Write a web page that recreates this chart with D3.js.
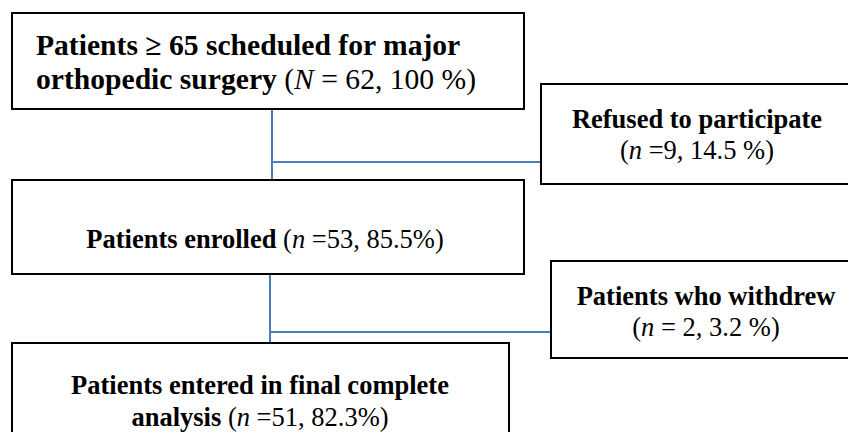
<!DOCTYPE html>
<html>
<head>
<meta charset="utf-8">
<script src="https://d3js.org/d3.v7.min.js"></script>
<style>
  body { margin: 0; background: #fff; }
  svg text { font-family: "Liberation Serif", "Times New Roman", serif; fill: #000; white-space: pre; }
</style>
</head>
<body>
<div id="chart"></div>
<script>
// flow data
var stageNames = ["Patients \u2265 65 scheduled for major orthopedic surgery", "Refused to participate",
                  "Patients enrolled", "Patients who withdrew", "Patients entered in final complete analysis"];
var stageSymbol = ["N", "n", "n", "n", "n"];
var stageEq = [" = ", " =", " =", " = ", " ="];
var stageCounts = [62, 9, 53, 2, 51];
var stagePct = ["100 %", "14.5 %", "85.5%", "3.2 %", "82.3%"];
// where each name is broken onto the next line (word index), -1 = one line
var breakAt = [6, -1, -1, -1, 5];
// does the count go on a line of its own
var countOwnLine = [false, true, false, true, false];

var w = 848, h = 432;

// box layout
var boxes = [
  {x: 12,  y: 13,  w: 512, h: 96,  size: 29.6, align: "left", tx: 36, base: [55, 89]},
  {x: 541, y: 84,  w: 320, h: 100, size: 26.5, align: "middle", tx: 697, base: [128, 159]},
  {x: 12,  y: 180, w: 512, h: 94,  size: 26.5, align: "middle", tx: 265, base: [248]},
  {x: 551, y: 261, w: 310, h: 97,  size: 26.5, align: "middle", tx: 706, base: [305, 336]},
  {x: 12,  y: 343, w: 497, h: 110, size: 26.5, align: "middle", tx: 260, base: [394, 426]}
];

// connectors: [from box, to box, branch box, branch y]
var links = [[0, 2, 1, 162], [2, 4, 3, 332]];
var trunkX = [272, 270];

var svg = d3.select("#chart").append("svg")
    .attr("width", w)
    .attr("height", h);

// build lines of text segments
function buildLines(i) {
  var words = stageNames[i].split(" ");
  var lines = [];
  var tail = [
    {t: " (", s: "n"},
    {t: stageSymbol[i], s: "i"},
    {t: stageEq[i] + stageCounts[i] + ", " + stagePct[i] + ")", s: "n"}
  ];
  if (breakAt[i] > 0 && breakAt[i] < words.length) {
    lines.push([{t: words.slice(0, breakAt[i]).join(" "), s: "b"}]);
    lines.push([{t: words.slice(breakAt[i]).join(" "), s: "b"}]);
  } else {
    lines.push([{t: stageNames[i], s: "b"}]);
  }
  if (countOwnLine[i]) {
    tail[0].t = "(";
    lines.push(tail);
  } else {
    lines[lines.length - 1] = lines[lines.length - 1].concat(tail);
  }
  return lines;
}

// connectors
links.forEach(function(l, k) {
  var a = boxes[l[0]], b = boxes[l[1]], c = boxes[l[2]];
  var xk = trunkX[k];
  svg.append("line")
    .attr("x1", xk).attr("y1", a.y + a.h)
    .attr("x2", xk).attr("y2", b.y)
    .attr("stroke", "#4a7ebb").attr("stroke-width", 2);
  svg.append("line")
    .attr("x1", xk - 1).attr("y1", l[3])
    .attr("x2", c.x).attr("y2", l[3])
    .attr("stroke", "#4a7ebb").attr("stroke-width", 2);
});

// boxes
var g = svg.selectAll("g.box")
    .data(boxes)
    .enter()
    .append("g")
    .attr("class", "box");

g.append("rect")
    .attr("x", function(d) { return d.x; })
    .attr("y", function(d) { return d.y; })
    .attr("width", function(d) { return d.w; })
    .attr("height", function(d) { return d.h; })
    .attr("fill", "#fff")
    .attr("stroke", "#000")
    .attr("stroke-width", 2);

g.each(function(d, i) {
  var lines = buildLines(i);
  var sel = d3.select(this);
  lines.forEach(function(segs, j) {
    var t = sel.append("text")
        .attr("x", d.tx)
        .attr("y", d.base[j])
        .attr("text-anchor", d.align === "left" ? "start" : "middle")
        .style("font-size", d.size + "px");
    segs.forEach(function(sg) {
      t.append("tspan")
        .attr("font-weight", sg.s === "b" ? "bold" : "normal")
        .attr("font-style", sg.s === "i" ? "italic" : "normal")
        .text(sg.t);
    });
  });
});
</script>
</body>
</html>
